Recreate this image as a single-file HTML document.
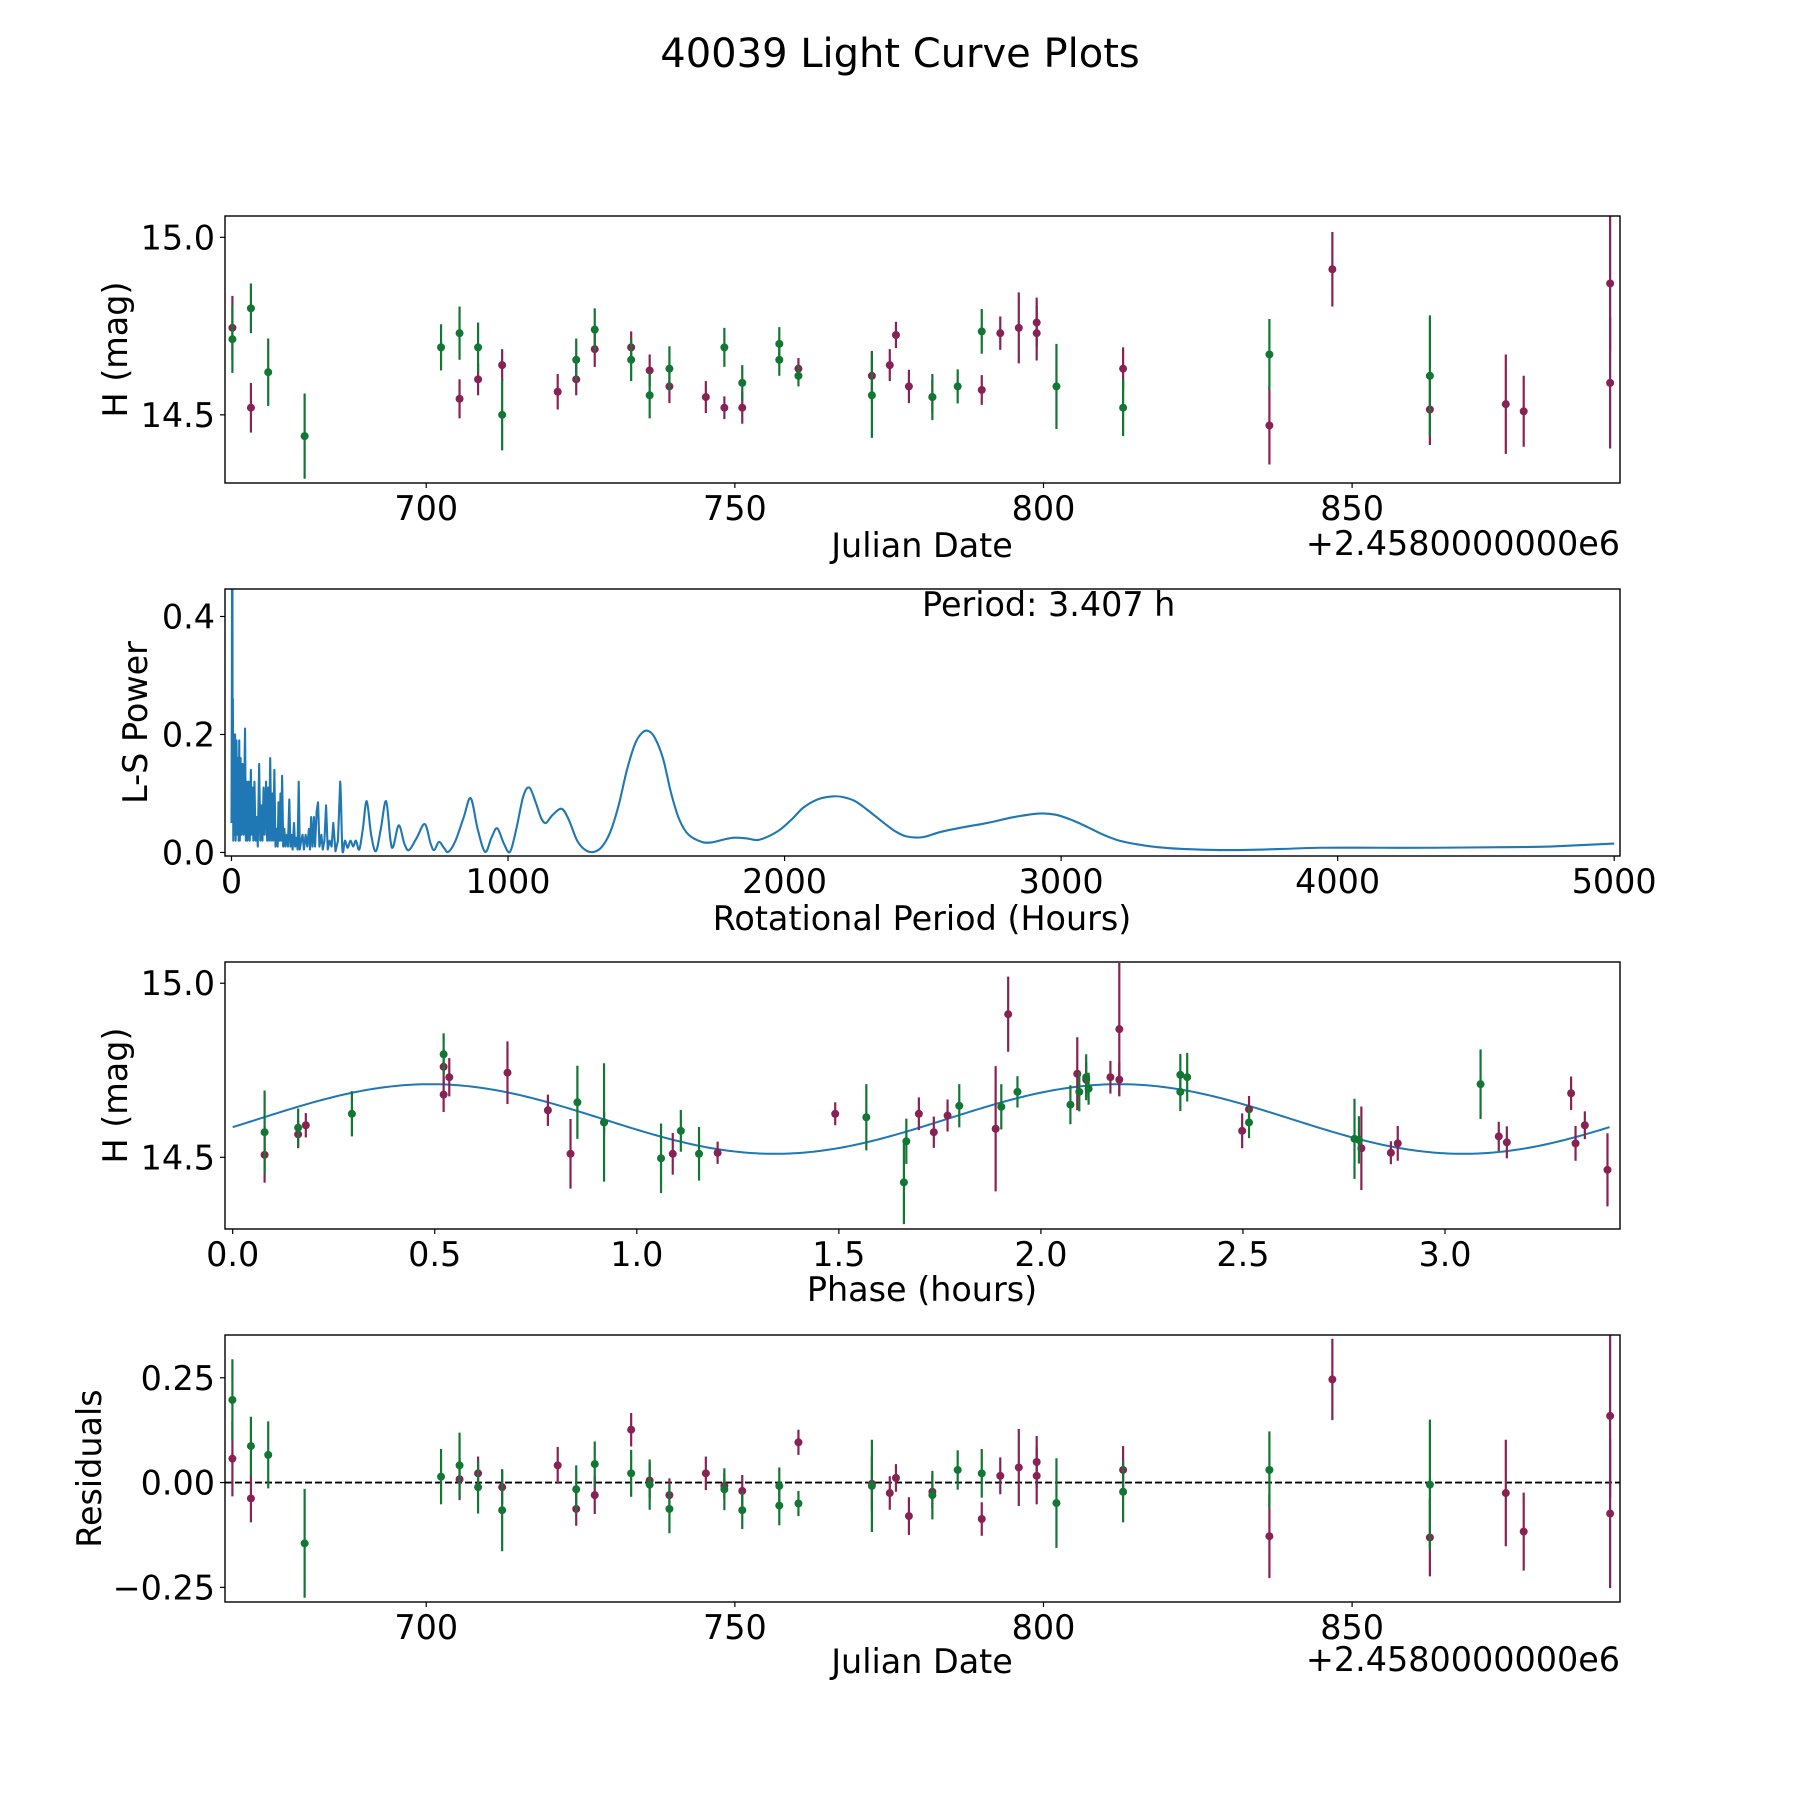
<!DOCTYPE html>
<html><head><meta charset="utf-8"><title>40039 Light Curve Plots</title>
<style>
html,body{margin:0;padding:0;background:#fff;}
svg{display:block;font-family:"DejaVu Sans","Liberation Sans",sans-serif;}
text{fill:#000;}
</style></head>
<body>
<svg id="fig" width="1800" height="1800" viewBox="0 0 1800 1800" xmlns="http://www.w3.org/2000/svg">
<rect width="1800" height="1800" fill="#fff"/>
<text x="900" y="67" font-size="40" text-anchor="middle">40039 Light Curve Plots</text>
<defs>
<clipPath id="c1"><rect x="225" y="216" width="1395" height="267"/></clipPath>
<clipPath id="c2"><rect x="225" y="589" width="1395" height="267"/></clipPath>
<clipPath id="c3"><rect x="225" y="962" width="1395" height="267"/></clipPath>
<clipPath id="c4"><rect x="225" y="1335" width="1395" height="267"/></clipPath>
</defs>
<g id="g1"></g>
<g id="g2"></g>
<g id="g3"></g>
<g id="g4"></g>
</svg>
<script>
// ---- Panel 1: light curve ----
const lcMaroonDays=[668.6,671.6,705.4,708.4,712.3,721.3,724.3,727.3,733.2,736.2,739.4,745.3,748.3,751.2,760.3,772.2,775.1,776.1,778.2,782.0,790.0,793.0,796.0,798.9,798.9,812.9,836.6,846.8,862.6,874.9,877.8,891.8,891.8];
const lcMaroonMags=[14.745,14.52,14.545,14.60,14.64,14.565,14.60,14.685,14.69,14.625,14.58,14.55,14.52,14.52,14.63,14.61,14.64,14.725,14.58,14.55,14.57,14.73,14.745,14.76,14.73,14.63,14.47,14.91,14.515,14.53,14.51,14.87,14.59];
const lcMaroonErrs=[.09,.07,.055,.045,.045,.05,.045,.05,.045,.045,.047,.045,.032,.045,.03,.07,.045,.037,.047,.047,.042,.047,.1,.07,.077,.06,.11,.105,.1,.14,.1,.19,.185];
const lcGreenDays=[668.6,671.6,674.4,680.3,702.4,705.4,708.4,712.3,724.3,727.3,733.2,736.2,739.4,748.3,751.2,757.2,757.2,760.3,772.2,782.0,786.1,790.0,802.1,812.9,836.6,862.6];
const lcGreenMags=[14.713,14.80,14.62,14.44,14.69,14.73,14.69,14.50,14.655,14.74,14.655,14.555,14.63,14.69,14.59,14.70,14.655,14.61,14.555,14.55,14.58,14.735,14.58,14.52,14.67,14.61];
const lcGreenErrs=[.095,.07,.095,.12,.065,.075,.07,.1,.06,.06,.06,.065,.063,.055,.05,.047,.045,.03,.12,.065,.048,.063,.12,.08,.1,.17];
const jdTicks=[700,750,800,850];
const magTicks=[15.0,14.5];
const magTickLabels=["15.0","14.5"];

// ---- Panel 2: periodogram ----
const lsPeriods=[0,1.5,2.8,4,5,6.5,8,10,13,15,18,21,24,26,28,30,33,36,40,44,49,52,55,58,62,66,70,73,76,79,83,87,91,95,100,104,108,112,116,120,125,129,133,136,140,144,148,151,155,159,163,167,170,174,177,180,183,187,191,195,200,204,209,213,217,221,226,230,235,239,243,247,252,257,262,268,274,280,284,288,293,298,302,308,313,318,325,330,336,342,348,355,362,368,376,385,393,401,410,420,430,440,450,462,475,489,505,522,540,559,575,585,605,625,642,670,699,720,733,750,768,784,810,840,865,890,917,940,961,985,1007,1030,1055,1077,1100,1120,1137,1160,1194,1220,1250,1280,1311,1340,1370,1400,1430,1460,1485,1507,1530,1560,1590,1620,1653,1700,1736,1780,1819,1860,1902,1940,1985,2030,2068,2120,2172,2210,2255,2300,2359,2400,2442,2500,2566,2650,2733,2830,2919,2980,3044,3100,3148,3210,3272,3350,3439,3605,3800,3937,4150,4352,4600,4767,5000];
const lsPowers=[0.05,0.3,0.9,0.1,0.26,0.02,0.2,0.03,0.2,0.02,0.19,0.03,0.16,0.02,0.19,0.02,0.16,0.03,0.15,0.03,0.21,0.02,0.12,0.02,0.12,0.02,0.14,0.03,0.11,0.02,0.12,0.02,0.06,0.01,0.15,0.02,0.08,0.02,0.11,0.03,0.12,0.02,0.11,0.02,0.16,0.02,0.1,0.02,0.14,0.01,0.04,0.01,0.085,0.02,0.1,0.02,0.13,0.01,0.04,0.01,0.03,0.01,0.09,0.01,0.03,0.005,0.05,0.01,0.025,0.005,0.12,0.005,0.02,0.03,0.005,0.03,0.01,0.04,0.005,0.06,0.01,0.06,0.01,0.07,0.085,0.01,0.03,0.005,0.02,0.08,0.005,0.02,0.01,0.05,0.002,0.02,0.12,0.005,0.02,0.008,0.02,0.01,0.02,0.005,0.04,0.087,0.03,0.002,0.04,0.087,0.02,0.01,0.046,0.015,0.004,0.025,0.048,0.015,0.004,0.018,0.008,0.001,0.02,0.06,0.092,0.04,0.001,0.025,0.041,0.015,0.001,0.04,0.095,0.11,0.085,0.058,0.05,0.063,0.074,0.055,0.02,0.004,0.001,0.01,0.035,0.08,0.14,0.185,0.203,0.206,0.195,0.16,0.1,0.055,0.03,0.018,0.017,0.022,0.025,0.024,0.021,0.027,0.039,0.058,0.076,0.09,0.095,0.094,0.087,0.072,0.05,0.036,0.027,0.026,0.035,0.043,0.05,0.06,0.066,0.064,0.054,0.042,0.031,0.02,0.014,0.009,0.006,0.004,0.006,0.008,0.008,0.008,0.009,0.01,0.015];
const periodTicks=[0,1000,2000,3000,4000,5000];
const powerTicks=[0.0,0.2,0.4];
const powerTickLabels=["0.0","0.2","0.4"];

// ---- Panel 3: phase folded ----
const phMaroonPhase=[.079,.162,.181,.522,.522,.536,.68,.78,.836,.919,1.089,1.2,1.491,1.698,1.735,1.769,1.888,1.919,2.09,2.112,2.172,2.194,2.194,2.498,2.515,2.793,2.866,2.883,3.133,3.153,3.312,3.323,3.346,3.402];
const phMaroonMags=[14.507,14.566,14.592,14.76,14.68,14.73,14.743,14.635,14.51,14.6,14.51,14.513,14.625,14.625,14.572,14.62,14.582,14.911,14.74,14.723,14.73,14.868,14.723,14.576,14.638,14.526,14.513,14.54,14.56,14.543,14.684,14.54,14.592,14.464];
const phMaroonErrs=[.08,.04,.035,.05,.05,.055,.09,.045,.1,.03,.06,.032,.033,.047,.045,.046,.18,.108,.105,.05,.047,.19,.048,.05,.038,.12,.033,.05,.042,.046,.048,.05,.04,.105];
const phGreenPhase=[.079,.162,.295,.522,.853,.919,1.06,1.109,1.154,1.568,1.661,1.667,1.798,1.902,1.942,2.073,2.095,2.112,2.118,2.345,2.345,2.362,2.515,2.776,2.787,3.088];
const phGreenMags=[14.572,14.585,14.625,14.796,14.658,14.6,14.497,14.576,14.51,14.615,14.428,14.546,14.648,14.645,14.688,14.651,14.688,14.73,14.697,14.737,14.688,14.73,14.6,14.553,14.55,14.71];
const phGreenErrs=[.12,.055,.065,.06,.105,.17,.1,.06,.077,.095,.12,.065,.062,.065,.045,.056,.056,.066,.046,.06,.055,.07,.045,.115,.068,.1];
const fitParams=[14.61,0.1,1.7035,0.064,3.407]; // mean, amplitude, period, phase offset, max phase
const phaseTicks=[0,0.5,1,1.5,2,2.5,3];
const phaseTickLabels=["0.0","0.5","1.0","1.5","2.0","2.5","3.0"];

// ---- Panel 4: residuals ----
const resMaroonDays=[668.6,671.6,705.4,708.4,712.3,721.3,724.3,727.3,733.2,736.2,739.4,745.3,748.3,751.2,760.3,772.2,775.1,776.1,778.2,782.0,790.0,793.0,796.0,798.9,798.9,812.9,836.6,846.8,862.6,874.9,877.8,891.8,891.8];
const resMaroonVals=[.057,-.038,.008,.022,-.011,.041,-.063,-.03,.126,.005,-.03,.022,-.008,-.02,.096,-.003,-.025,.011,-.08,-.022,-.087,.016,.036,.049,.016,.03,-.128,.246,-.131,-.025,-.117,.159,-.074];
const resMaroonErrs=[.09,.057,.05,.04,.04,.044,.04,.045,.04,.042,.04,.04,.03,.038,.03,.065,.04,.033,.045,.04,.04,.044,.092,.062,.068,.057,.1,.097,.093,.127,.093,.195,.178];
const resGreenDays=[668.6,671.6,674.4,680.3,702.4,705.4,708.4,712.3,724.3,727.3,733.2,736.2,739.4,748.3,751.2,757.2,757.2,760.3,772.2,782.0,786.1,790.0,802.1,812.9,836.6,862.6];
const resGreenVals=[.197,.087,.066,-.145,.014,.041,-.011,-.066,-.016,.044,.022,-.005,-.063,-.016,-.066,-.008,-.055,-.05,-.008,-.03,.03,.022,-.049,-.022,.03,-.005];
const resGreenErrs=[.097,.07,.08,.13,.066,.078,.063,.098,.057,.054,.056,.06,.058,.05,.045,.044,.047,.03,.11,.058,.047,.058,.107,.073,.092,.155];
const resTicks=[0.25,0,-0.25];
const resTickLabels=["0.25","0.00","\u22120.25"];

const NS="http://www.w3.org/2000/svg";
const MAROON="#882255", GREEN="#117733", BLUE="#1f77b4";
const L=225,R=1620,H=267,FS=33.4;
function lin(d0,d1,p0,p1){return v=>p0+(v-d0)*(p1-p0)/(d1-d0);}
function mk(tag,attrs,parent){const e=document.createElementNS(NS,tag);for(const k in attrs)e.setAttribute(k,attrs[k]);parent.appendChild(e);return e;}

function frame(g,top){
  const r=mk('rect',{x:L,y:top,width:R-L,height:H,fill:'none',stroke:'#000','stroke-width':1.4},g);
  
  
}
function xTicks(g,top,sx,vals,labels,name){
  vals.forEach((v,i)=>{
    const x=sx(v);
    const t=mk('line',{x1:x,x2:x,y1:top+H,y2:top+H+5,stroke:'#000','stroke-width':1.2},g);
    
    
    const tx=mk('text',{x:x,y:top+H+37,'font-size':FS,'text-anchor':'middle'},g);
    tx.textContent=labels[i];
    
    
  });
}
function yTicks(g,sy,vals,labels,name){
  vals.forEach((v,i)=>{
    const y=sy(v);
    const t=mk('line',{x1:L-5,x2:L,y1:y,y2:y,stroke:'#000','stroke-width':1.2},g);
    
    
    const tx=mk('text',{x:L-10,y:y+12,'font-size':FS,'text-anchor':'end'},g);
    tx.textContent=labels[i];
    
    
  });
}
function label(g,x,y,txt,name,rot,anchor){
  const t=mk('text',{x:x,y:y,'font-size':FS,'text-anchor':anchor||'middle'},g);
  if(rot)t.setAttribute('transform','rotate(-90 '+x+' '+y+')');
  t.textContent=txt;
  
  
}
function errPoints(g,clip,xs,ys,es,sx,sy,color,name){
  const grp=mk('g',{'clip-path':'url(#'+clip+')'},g);
  
  
  xs.forEach((xv,i)=>{
    const x=sx(xv);
    const ln=mk('line',{x1:x,x2:x,y1:sy(ys[i]-es[i]),y2:sy(ys[i]+es[i]),stroke:color,'stroke-width':2.2},grp);
    
    
    const c=mk('circle',{cx:x,cy:sy(ys[i]),r:4,fill:color},grp);
    
    
  });
}
const jdLabels=jdTicks.map(String);

// Panel 1
(function(){
  const g=document.getElementById('g1'),top=216;
  const sx=lin(667.4,893.4,L,R), sy=lin(14.308,15.06,top+H,top);
  errPoints(g,'c1',lcMaroonDays,lcMaroonMags,lcMaroonErrs,sx,sy,MAROON,'maroon-observation');
  errPoints(g,'c1',lcGreenDays,lcGreenMags,lcGreenErrs,sx,sy,GREEN,'green-observation');
  frame(g,top);
  xTicks(g,top,sx,jdTicks,jdLabels,'x-tick-label');
  yTicks(g,sy,magTicks,magTickLabels,'y-tick-label');
  label(g,922,557,'Julian Date','x-axis-title');
  label(g,1620,555,'+2.4580000000e6','x-offset-text',false,'end');
  label(g,127,349.5,'H (mag)','y-axis-title',true);
})();

// Panel 2
(function(){
  const g=document.getElementById('g2'),top=589;
  const sx=lin(-23.5,5021,L,R), sy=lin(-0.006,0.4466,top+H,top);
  const grp=mk('g',{'clip-path':'url(#c2)'},g);
  
  
  const pts=lsPeriods.map((p,i)=>[sx(p),sy(lsPowers[i])]);
  let d='M'+pts[0][0].toFixed(2)+','+pts[0][1].toFixed(2);
  for(let i=1;i<pts.length;i++){
    if(lsPeriods[i]<400||i>=pts.length-1){d+='L'+pts[i][0].toFixed(2)+','+pts[i][1].toFixed(2);continue;}
    const p0=pts[i-2]||pts[i-1],p1=pts[i-1],p2=pts[i],p3=pts[i+1];
    const c1=[p1[0]+(p2[0]-p0[0])/6,p1[1]+(p2[1]-p0[1])/6];
    const c2=[p2[0]-(p3[0]-p1[0])/6,p2[1]-(p3[1]-p1[1])/6];
    d+='C'+c1[0].toFixed(2)+','+c1[1].toFixed(2)+' '+c2[0].toFixed(2)+','+c2[1].toFixed(2)+' '+p2[0].toFixed(2)+','+p2[1].toFixed(2);
  }
  const path=mk('path',{d:d,fill:'none',stroke:BLUE,'stroke-width':2.1,'stroke-linejoin':'round'},grp);
  
  
  frame(g,top);
  xTicks(g,top,sx,periodTicks,periodTicks.map(String),'x-tick-label');
  yTicks(g,sy,powerTicks,powerTickLabels,'y-tick-label');
  label(g,922,930,'Rotational Period (Hours)','x-axis-title');
  label(g,147,722.5,'L-S Power','y-axis-title',true);
  label(g,922,616,'Period: 3.407 h','period-annotation',false,'start');
})();

// Panel 3
(function(){
  const g=document.getElementById('g3'),top=962;
  const sx=lin(-0.019,3.433,L,R), sy=lin(14.294,15.061,top+H,top);
  const [mean,amp,per,off,maxP]=fitParams;
  let d='';
  for(let i=0;i<=400;i++){const p=maxP*i/400;const v=mean+amp*Math.sin(2*Math.PI*(p-off)/per);d+=(i?'L':'M')+sx(p).toFixed(2)+','+sy(v).toFixed(2);}
  const grp=mk('g',{'clip-path':'url(#c3)'},g);
  
  
  const path=mk('path',{d:d,fill:'none',stroke:BLUE,'stroke-width':2},grp);
  
  
  errPoints(g,'c3',phMaroonPhase,phMaroonMags,phMaroonErrs,sx,sy,MAROON,'maroon-phase');
  errPoints(g,'c3',phGreenPhase,phGreenMags,phGreenErrs,sx,sy,GREEN,'green-phase');
  frame(g,top);
  xTicks(g,top,sx,phaseTicks,phaseTickLabels,'x-tick-label');
  yTicks(g,sy,magTicks,magTickLabels,'y-tick-label');
  label(g,922,1301,'Phase (hours)','x-axis-title');
  label(g,127,1095.5,'H (mag)','y-axis-title',true);
})();

// Panel 4
(function(){
  const g=document.getElementById('g4'),top=1335;
  const sx=lin(667.4,893.4,L,R), sy=lin(-0.285,0.352,top+H,top);
  const z=mk('line',{x1:L,x2:R,y1:sy(0),y2:sy(0),stroke:'#000','stroke-width':1.8,'stroke-dasharray':'7,3'},g);
  
  
  errPoints(g,'c4',resMaroonDays,resMaroonVals,resMaroonErrs,sx,sy,MAROON,'maroon-residual');
  errPoints(g,'c4',resGreenDays,resGreenVals,resGreenErrs,sx,sy,GREEN,'green-residual');
  frame(g,top);
  xTicks(g,top,sx,jdTicks,jdLabels,'x-tick-label');
  yTicks(g,sy,resTicks,resTickLabels,'y-tick-label');
  label(g,922,1673,'Julian Date','x-axis-title');
  label(g,1620,1671,'+2.4580000000e6','x-offset-text',false,'end');
  label(g,101,1468.5,'Residuals','y-axis-title',true);
})();
</script>
</body></html>
